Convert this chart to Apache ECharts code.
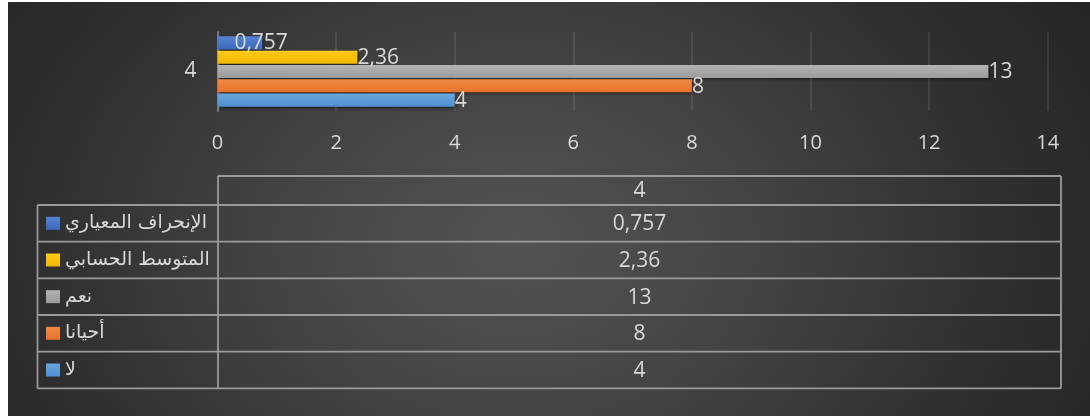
<!DOCTYPE html>
<html>
<head>
<meta charset="utf-8">
<script src="https://cdn.jsdelivr.net/npm/echarts@6/dist/echarts.min.js"></script>
<style>
  html, body { margin: 0; padding: 0; background: #ffffff; width: 1090px; height: 416px; overflow: hidden; }
  #chart { position: absolute; left: 0; top: 0; width: 1090px; height: 416px; }
  #bg { position: absolute; left: 8px; top: 2px; width: 1082px; height: 414px;
        background: radial-gradient(ellipse 62% 120% at 47% 58%, #535353 0%, #444444 35%, #303030 70%, #242424 100%); }
</style>
</head>
<body>
<div id="bg"></div>
<div id="chart"></div>
<script>
// ---- data ----
const categories = ['4'];
const seriesNames = ['لا', 'أحيانا', 'نعم', 'المتوسط الحسابي', 'الإنحراف المعياري'];
const valuesLa = [4];
const valuesAhyanan = [8];
const valuesNaam = [13];
const valuesMean = [2.36];
const valuesStd = [0.757];
const allValues = [valuesLa, valuesAhyanan, valuesNaam, valuesMean, valuesStd];

// ---- styles ----
const seriesColors = [
  ['#6aa6dd', '#4f90cf'],
  ['#f28a45', '#e5722a'],
  ['#b3b3b3', '#9b9b9b'],
  ['#ffca1a', '#f2b800'],
  ['#5582d2', '#3c69ba']
];
const textColor = '#d9d9d9';
const numFont = 'Open Sans';
const arFont = 'DejaVu Sans';

const fmt = v => String(v).replace('.', ',');

const chart = echarts.init(document.getElementById('chart'), null, { renderer: 'canvas' });

// ECharts lays horizontal bars top-down in series order; reference shows last legend item on top
const order = [4, 3, 2, 1, 0];
const series = order.map(i => ({
  name: seriesNames[i],
  type: 'bar',
  data: allValues[i],
  barGap: '9%',
  barCategoryGap: '11%',
  itemStyle: {
    color: new echarts.graphic.LinearGradient(0, 0, 0, 1, [
      { offset: 0, color: seriesColors[i][0] },
      { offset: 1, color: seriesColors[i][1] }
    ]),
    shadowColor: 'rgba(0,0,0,0.5)',
    shadowBlur: 3,
    shadowOffsetX: 2,
    shadowOffsetY: 2
  },
  label: {
    show: true,
    position: 'right',
    distance: 0,
    offset: i === 4 ? [-28, 0] : [0, 1],
    color: textColor,
    fontFamily: numFont,
    fontSize: 21,
    formatter: p => fmt(p.value)
  }
}));

// ---- data table (layout) ----
const tblLeft = 37.5, tblDiv = 218, tblRight = 1061;
const tblTop = 176, hdrBottom = 205, rowH = 36.67;
const lineStyle = { stroke: '#9a9a9a', lineWidth: 1.8 };
const g = [];
const nRows = seriesNames.length;
const tblBottom = hdrBottom + nRows * rowH;
g.push({ type: 'line', shape: { x1: tblDiv, y1: tblTop, x2: tblRight, y2: tblTop }, style: lineStyle });
g.push({ type: 'line', shape: { x1: tblDiv, y1: tblTop, x2: tblDiv, y2: tblBottom }, style: lineStyle });
g.push({ type: 'line', shape: { x1: tblRight, y1: tblTop, x2: tblRight, y2: tblBottom }, style: lineStyle });
g.push({ type: 'line', shape: { x1: tblLeft, y1: hdrBottom, x2: tblLeft, y2: tblBottom }, style: lineStyle });
for (let r = 0; r <= nRows; r++) {
  const y = hdrBottom + r * rowH;
  g.push({ type: 'line', shape: { x1: tblLeft, y1: y, x2: tblRight, y2: y }, style: lineStyle });
}
const midX = (tblDiv + tblRight) / 2;
g.push({ type: 'text', x: midX, y: (tblTop + hdrBottom) / 2 + 1,
  style: { text: categories[0], fill: textColor, font: '21px "' + numFont + '"', align: 'center', verticalAlign: 'middle' } });
for (let r = 0; r < nRows; r++) {
  const si = nRows - 1 - r;
  const cy = hdrBottom + (r + 0.5) * rowH;
  g.push({ type: 'rect', shape: { x: 46, y: cy - 6.5, width: 14, height: 13 },
    style: { fill: new echarts.graphic.LinearGradient(0, 0, 0, 1, [
      { offset: 0, color: seriesColors[si][0] }, { offset: 1, color: seriesColors[si][1] }]) } });
  g.push({ type: 'text', x: 65, y: cy,
    style: { text: seriesNames[si], fill: textColor, font: '19px "' + arFont + '"', align: 'left', verticalAlign: 'middle' } });
  g.push({ type: 'text', x: midX, y: cy + 1,
    style: { text: fmt(allValues[si][0]), fill: textColor, font: '21px "' + numFont + '"', align: 'center', verticalAlign: 'middle' } });
}

chart.setOption({
  backgroundColor: 'transparent',
  animation: false,
  grid: { left: 217.5, right: 42.3, top: 32, height: 79, containLabel: false },
  xAxis: {
    type: 'value', min: 0, max: 14, interval: 2,
    axisLine: { show: false }, axisTick: { show: false },
    splitLine: { show: true, lineStyle: { color: 'rgba(255,255,255,0.12)', width: 1.5 } },
    axisLabel: { color: textColor, fontFamily: numFont, fontSize: 20, margin: 22 }
  },
  yAxis: {
    type: 'category', data: categories,
    axisLine: { show: true, lineStyle: { color: '#7a7a7a', width: 2 } },
    axisTick: { show: false },
    axisLabel: { color: textColor, fontFamily: numFont, fontSize: 21, margin: 21 }
  },
  series: series,
  graphic: { elements: g }
});
</script>
</body>
</html>
